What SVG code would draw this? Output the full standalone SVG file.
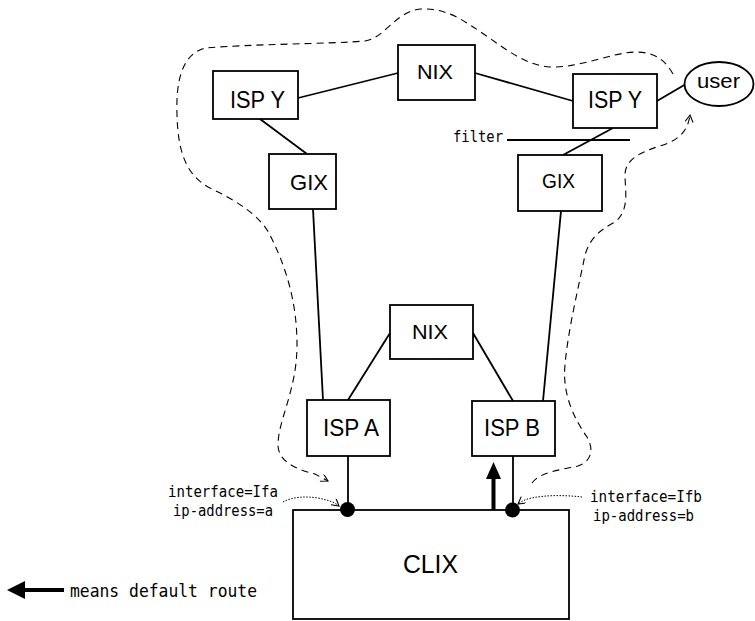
<svg xmlns="http://www.w3.org/2000/svg" width="755" height="621" viewBox="0 0 755 621">
<style>
.box{fill:#fff;stroke:#000;stroke-width:1.8}
.lbl{font-family:"Liberation Sans",Arial,sans-serif;fill:#000}
.sm{font-family:"DejaVu Sans Mono","Liberation Mono",monospace;fill:#000;font-size:15.5px}
.ln{stroke:#000;stroke-width:1.8;fill:none}
.dash{stroke:#000;stroke-width:1.1;fill:none;stroke-dasharray:7,5}
.dot{stroke:#000;stroke-width:1;fill:none;stroke-dasharray:1.5,1.5}
</style>
<defs>
<marker id="open" markerWidth="10" markerHeight="10" refX="8" refY="4" orient="auto" markerUnits="userSpaceOnUse">
<path d="M1,0 L8,4 L1,8" fill="none" stroke="#000" stroke-width="1.1"/>
</marker>
</defs>
<rect width="755" height="621" fill="#fff"/>

<g id="connectors">
<line class="ln" x1="298" y1="98" x2="398" y2="73"/>
<line class="ln" x1="475" y1="73" x2="573" y2="101"/>
<line class="ln" x1="657" y1="101" x2="686" y2="84"/>
<line class="ln" x1="260" y1="119" x2="307" y2="154"/>
<line class="ln" x1="613" y1="128" x2="563" y2="155"/>
<line class="ln" x1="313" y1="209" x2="323" y2="400"/>
<line class="ln" x1="561" y1="211" x2="543" y2="401"/>
<line class="ln" x1="390" y1="333" x2="348" y2="400"/>
<line class="ln" x1="473" y1="333" x2="513" y2="401"/>
<line class="ln" x1="348" y1="456" x2="348" y2="510"/>
<line class="ln" x1="513" y1="456" x2="513" y2="510"/>
<line class="ln" x1="507" y1="140" x2="630" y2="140"/>
<path class="dash" marker-end="url(#open)" d="M673,74 C665,60 655,52 635,52 C610,53 580,68 550,67 C520,65 495,40 470,25 C455,15 440,8 420,9 C395,12 385,38 365,41 C330,44 250,44 205,48 C180,55 176,85 177,115 C178,150 185,175 210,188 C235,200 260,215 270,235 C285,265 297,300 297,345 C297,390 278,420 278,445 C278,462 298,470 315,474 L328,481"/>
<path class="dash" marker-end="url(#open)" d="M532,483 C540,472 560,470 578,466 C595,460 592,445 587,437 C575,420 562,395 565,365 C568,330 578,290 585,255 C590,238 600,230 615,222 C630,210 625,190 625,175 C625,160 640,152 660,146 C680,140 688,130 690,115"/>
<path class="dot" marker-end="url(#open)" d="M283,502 C292,497 305,496 318,498 C328,500 334,502 339,506"/>
<path class="dot" marker-end="url(#open)" d="M582,497 C565,495 545,495 532,498 C526,499 522,501 518,504"/>
<polygon points="486,479 501,479 493.5,462" fill="#000"/>
<line x1="493.5" y1="478" x2="493.5" y2="510" stroke="#000" stroke-width="4"/>
</g>

<g id="ispy-left"><rect class="box" x="213" y="71" width="85" height="48"/><text class="lbl" x="230" y="108" font-size="23" textLength="55" lengthAdjust="spacingAndGlyphs">ISP Y</text></g>
<g id="nix-top"><rect class="box" x="398" y="45" width="77" height="55"/><text class="lbl" x="417" y="79" font-size="20" textLength="36" lengthAdjust="spacingAndGlyphs">NIX</text></g>
<g id="ispy-right"><rect class="box" x="573" y="74" width="84" height="54"/><text class="lbl" x="588" y="108" font-size="23" textLength="54" lengthAdjust="spacingAndGlyphs">ISP Y</text></g>
<g id="user"><ellipse cx="719" cy="84" rx="34.5" ry="22" fill="#fff" stroke="#000" stroke-width="1.8"/><text class="lbl" x="697" y="88" font-size="20" textLength="43" lengthAdjust="spacingAndGlyphs">user</text></g>
<g id="gix-left"><rect class="box" x="269" y="154" width="67" height="55"/><text class="lbl" x="290" y="190" font-size="22" textLength="38" lengthAdjust="spacingAndGlyphs">GIX</text></g>
<g id="gix-right"><rect class="box" x="518" y="155" width="84" height="56"/><text class="lbl" x="542" y="188" font-size="20" textLength="33" lengthAdjust="spacingAndGlyphs">GIX</text></g>
<g id="nix-mid"><rect class="box" x="390" y="305" width="83" height="54"/><text class="lbl" x="412" y="339" font-size="21" textLength="36" lengthAdjust="spacingAndGlyphs">NIX</text></g>
<g id="isp-a"><rect class="box" x="307" y="400" width="83" height="56"/><text class="lbl" x="323" y="436" font-size="23" textLength="56" lengthAdjust="spacingAndGlyphs">ISP A</text></g>
<g id="isp-b"><rect class="box" x="472" y="401" width="83" height="55"/><text class="lbl" x="484" y="436" font-size="23" textLength="56" lengthAdjust="spacingAndGlyphs">ISP B</text></g>
<g id="clix"><rect class="box" x="293" y="510" width="276" height="109"/><text class="lbl" x="403" y="573" font-size="25" textLength="55" lengthAdjust="spacingAndGlyphs">CLIX</text></g>
<g id="iface-a"><circle cx="347.5" cy="509.5" r="7.5" fill="#000"/></g>
<g id="iface-b"><circle cx="512.5" cy="510" r="7.5" fill="#000"/></g>

<g id="labels">
<text class="sm" x="453" y="142" textLength="50" lengthAdjust="spacingAndGlyphs">filter</text>
<text class="sm" x="168" y="497" textLength="110" lengthAdjust="spacingAndGlyphs">interface=Ifa</text>
<text class="sm" x="173" y="516" textLength="100" lengthAdjust="spacingAndGlyphs">ip-address=a</text>
<text class="sm" x="590" y="502" textLength="112" lengthAdjust="spacingAndGlyphs">interface=Ifb</text>
<text class="sm" x="593" y="521" textLength="101" lengthAdjust="spacingAndGlyphs">ip-address=b</text>
</g>

<g id="legend">
<polygon points="7,590 25,581 25,599" fill="#000"/>
<line x1="24" y1="590" x2="64" y2="590" stroke="#000" stroke-width="4"/>
<text class="sm" x="70" y="597" style="font-size:17px" textLength="187" lengthAdjust="spacingAndGlyphs">means default route</text>
</g>
</svg>
